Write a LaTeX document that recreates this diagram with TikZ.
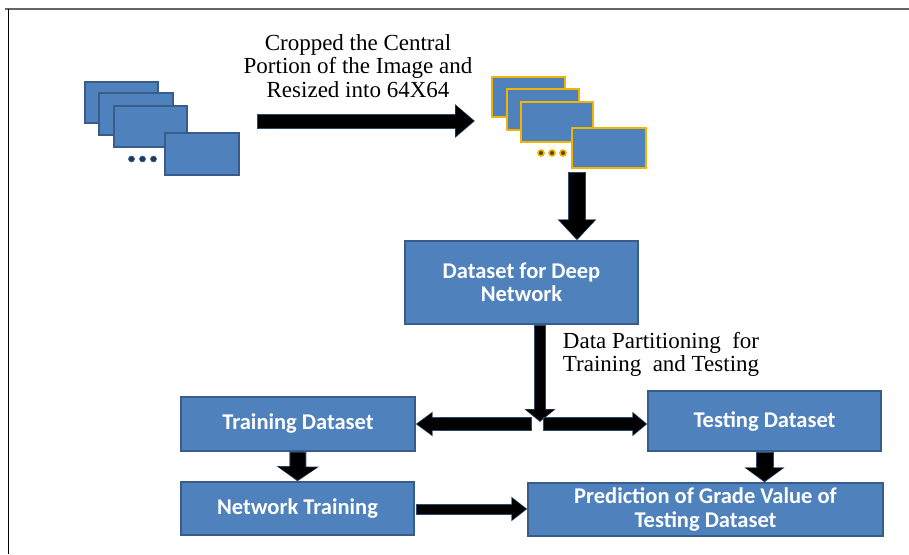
\documentclass[tikz,border=0pt]{standalone}
\usepackage{fontspec}
\setmainfont{Liberation Serif}
\newfontfamily\boxfont{Carlito}
\usetikzlibrary{arrows.meta}
\definecolor{boxfill}{HTML}{4F81BD}
\definecolor{boxline}{HTML}{385D8A}
\definecolor{goldline}{HTML}{F2B400}
\definecolor{arredge}{HTML}{2C4A6E}
\definecolor{dotblue}{HTML}{1F3B64}
\definecolor{dotcore}{HTML}{5A4300}
\newcommand\blockarrow[5]{%
  \pgfmathsetmacro\baW{#3+2}\pgfmathsetmacro\baH{#4+2.5}\pgfmathsetmacro\baL{#5+2}%
  \draw[arredge, line width=\baW pt, -{Triangle[width=\baH pt,length=\baL pt]}] #1 -- #2;
  \draw[black, line width=#3pt, -{Triangle[width=#4pt,length=#5pt]}, shorten >=1.3pt, shorten <=1pt] #1 -- #2;}
\tikzset{
  img/.style={draw=boxline, fill=boxfill, line width=1.3pt, inner sep=0pt},
  gimg/.style={draw=goldline, fill=boxfill, line width=2.4pt, inner sep=0pt},
  proc/.style={draw=boxline, fill=boxfill, line width=1.3pt, text=white,
    font=\boxfont\bfseries\fontsize{22.5}{23.5}\selectfont, align=center, inner sep=0pt},
  lbl/.style={font=\fontsize{23}{23.5}\selectfont, align=center, inner sep=0pt},
  bdot/.style={fill=dotblue, draw=boxline, line width=0.6pt},
  gdot/.style={fill=dotcore, draw=goldline, line width=1.6pt}
}
\begin{document}
\begin{tikzpicture}[x=1pt,y=-1pt]
\useasboundingbox (0,0) rectangle (909,554);
\fill[white] (0,0) rectangle (909,554);
% frame
\draw[gray!80!black, line width=1.4pt] (5,9) -- (909,9);
\draw[black, line width=1pt] (8,9) -- (8,554);
% left image stack
\node[img, minimum width=73pt, minimum height=41pt] (l1) at (121.5,102.5) {};
\node[img, minimum width=74pt, minimum height=42pt] (l2) at (136,114) {};
\node[img, minimum width=73pt, minimum height=41pt] (l3) at (150.5,126.5) {};
\node[img, minimum width=74pt, minimum height=42pt] (l4) at (202,154) {};
\foreach \x in {131.5,142.5,153.5} \draw[bdot] (\x,159) circle (3pt);
% right image stack
\node[gimg, minimum width=73pt, minimum height=40pt] (r1) at (528.5,97) {};
\node[gimg, minimum width=72pt, minimum height=41pt] (r2) at (543,109.5) {};
\node[gimg, minimum width=72pt, minimum height=40pt] (r3) at (557,122) {};
\node[gimg, minimum width=74pt, minimum height=40pt] (r4) at (609,148) {};
\foreach \x in {541,552,563} \draw[gdot] (\x,153) circle (3pt);
% labels
\node[lbl] (crop) at (358,66) {Cropped the Central\\Portion of the Image and\\Resized into 64X64};
\node[lbl] (part) at (661,354.5) {Data Partitioning\ \ for\\Training\ \ and Testing};
% process boxes
\node[proc, minimum width=233pt, minimum height=83pt] (ds) at (521.5,282.5) {Dataset for Deep\\Network};
\node[proc, minimum width=234pt, minimum height=54pt] (tr) at (298,424) {Training Dataset};
\node[proc, minimum width=233pt, minimum height=60pt] (te) at (764.5,421) {Testing Dataset};
\node[proc, minimum width=233pt, minimum height=53pt] (nt) at (297.5,508.5) {Network Training};
\node[proc, minimum width=355pt, minimum height=53pt] (pr) at (705.5,509.5) {Prediction of Grade Value of\\Testing Dataset};
% connector end points
\coordinate (a1s) at (257,121);
\coordinate (a1e) at (475,121);
\coordinate (a2s) at (577,172);
\coordinate (sp) at (540,422);
\coordinate (spl) at (532,424);
\coordinate (spr) at (543,424);
\coordinate (nte) at (416,509);
% block arrows
\blockarrow{(a1s)}{(a1e)}{13}{30}{18}
\blockarrow{(a2s)}{(a2s |- ds.north)}{16}{35}{19}
\blockarrow{(ds.south -| sp)}{(sp)}{10}{28}{11}
\blockarrow{(spl)}{(spl -| tr.east)}{12}{21}{15}
\blockarrow{(spr)}{(spr -| te.west)}{12}{21}{13}
\blockarrow{(tr.south)}{(nt.north)}{15}{39}{13}
\blockarrow{(te.south)}{(te.south |- pr.north)}{16}{37}{13}
\blockarrow{(nte)}{(nte -| pr.west)}{9}{21}{14}
\end{tikzpicture}
\end{document}
